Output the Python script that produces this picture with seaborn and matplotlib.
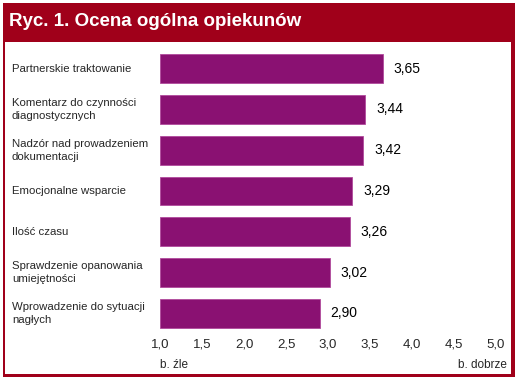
import matplotlib
matplotlib.use("Agg")
import matplotlib.pyplot as plt
import seaborn as sns
import pandas as pd
from matplotlib.patches import Rectangle
from matplotlib.transforms import blended_transform_factory

categories = [
    "Partnerskie traktowanie",
    "Komentarz do czynności\ndiagnostycznych",
    "Nadzór nad prowadzeniem\ndokumentacji",
    "Emocjonalne wsparcie",
    "Ilość czasu",
    "Sprawdzenie opanowania\numiejętności",
    "Wprowadzenie do sytuacji\nnagłych",
]
values = [3.65, 3.44, 3.42, 3.29, 3.26, 3.02, 2.90]
value_labels = ["3,65", "3,44", "3,42", "3,29", "3,26", "3,02", "2,90"]
tick_values = [1.0, 1.5, 2.0, 2.5, 3.0, 3.5, 4.0, 4.5, 5.0]
tick_labels = ["1,0", "1,5", "2,0", "2,5", "3,0", "3,5", "4,0", "4,5", "5,0"]
title = "Ryc. 1. Ocena ogólna opiekunów"
left_note = "b. źle"
right_note = "b. dobrze"

sns.set_theme(style="white")
FONT = ["Liberation Sans", "DejaVu Sans"]
plt.rcParams["font.family"] = FONT

W, H = 515, 379
fig = plt.figure(figsize=(W / 100, H / 100), dpi=100)
fig.patch.set_facecolor("white")

RED = "#A0001A"
PURPLE = "#8A1172"

# frame
fig.patches.append(Rectangle((3 / W, 1 - 377 / H), 512 / W, 374 / H,
                             transform=fig.transFigure, facecolor=RED,
                             edgecolor="none", zorder=-10))
fig.patches.append(Rectangle((5 / W, 1 - 374 / H), 506 / W, 332 / H,
                             transform=fig.transFigure, facecolor="white",
                             edgecolor="none", zorder=-9))
fig.text(9 / W, 1 - 22 / H, title, color="white", fontsize=13.5,
         fontweight="bold", va="center", ha="left", family=FONT)

# axes: x=1.0 at px 160
px_per = 84.0
x0_px = 160
xmax = 5.15
ax_w_px = (xmax - 1.0) * px_per
top_px, bot_px = 48.1, 333.9
ax = fig.add_axes([x0_px / W, 1 - bot_px / H, ax_w_px / W, (bot_px - top_px) / H])
ax.set_facecolor("none")
ax.set_zorder(5)

df = pd.DataFrame({"cat": categories, "val": values})
sns.barplot(data=df, x="val", y="cat", orient="h", color=PURPLE,
            saturation=1, width=0.71, ax=ax, edgecolor="#B04A9C", linewidth=0.6)

ax.set_xlim(1.0, xmax)
ax.set_ylim(len(categories) - 0.5, -0.5)
for p in ax.patches:
    # bars start at 1.0
    w = p.get_width()
    p.set_x(1.0)
    p.set_width(w - 1.0)

for i, (v, lab) in enumerate(zip(values, value_labels)):
    ax.annotate(lab, xy=(v, i), xytext=(11, 0), textcoords="offset pixels",
                ha="left", va="center", fontsize=10, color="black", family=FONT)

ax.set_xticks(tick_values)
ax.set_xticklabels(tick_labels, fontsize=9.5, family=FONT)
ax.tick_params(axis="x", length=0, pad=3)
ax.set_yticks(range(len(categories)))
ax.set_yticklabels([])
ax.tick_params(axis="y", length=0)
ax.set_xlabel("")
ax.set_ylabel("")
for s in ax.spines.values():
    s.set_visible(False)

# category labels left-aligned at x = 12 px
trans = blended_transform_factory(fig.transFigure, ax.transData)
for i, c in enumerate(categories):
    ax.text(12 / W, i, c, transform=trans, ha="left", va="center",
            fontsize=8.2, linespacing=1.4, family=FONT, clip_on=False)

fig.text(160 / W, 1 - 365 / H, left_note, ha="left", va="center",
         fontsize=8.5, family=FONT)
fig.text(507 / W, 1 - 365 / H, right_note, ha="right", va="center",
         fontsize=8.5, family=FONT)

fig.savefig("out.png", dpi=100)
